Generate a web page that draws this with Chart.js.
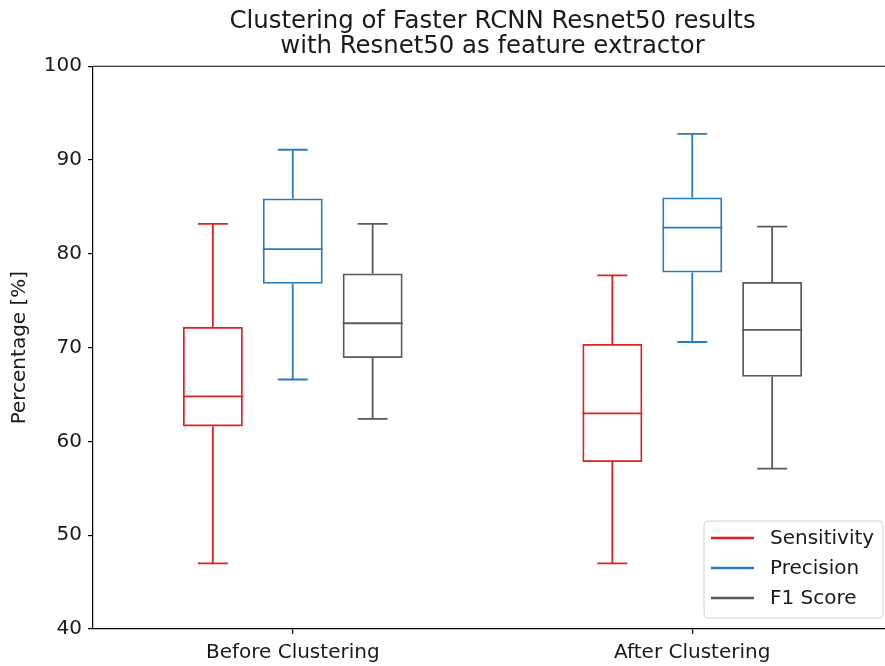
<!DOCTYPE html>
<html>
<head>
<meta charset="utf-8">
<script src="https://cdn.jsdelivr.net/npm/chart.js@4.4.0/dist/chart.umd.min.js"></script>
<style>
  html, body { margin: 0; padding: 0; background: #fff; overflow: hidden; }
  #wrap { width: 900px; height: 666px; position: relative; }
</style>
</head>
<body>
<div id="wrap"><canvas id="c" width="900" height="666"></canvas></div>
<script>
// Categories on the x axis
const categories = ['Before Clustering', 'After Clustering'];
// Series names (legend order)
const seriesNames = ['Sensitivity', 'Precision', 'F1 Score'];
// Five-number summaries per category: [whisker low, Q1, median, Q3, whisker high]
const sensitivity = [[47.0, 61.6, 64.8, 72.2, 83.2], [47.0, 57.8, 63.0, 70.4, 77.7]];
const precision   = [[66.6, 76.8, 80.5, 85.9, 91.1], [70.6, 78.0, 82.8, 86.0, 92.8]];
const f1Score     = [[62.4, 68.9, 72.6, 77.9, 83.2], [57.1, 66.9, 71.9, 77.0, 82.9]];
// Y axis tick values
const yTicks = [40, 50, 60, 70, 80, 90, 100];

const seriesStats = [sensitivity, precision, f1Score];
const seriesColors = ['#e41f1f', '#2a7bbf', '#5a5a5a'];
const FONT = "'DejaVu Sans', sans-serif";
const LINE_W = 1.8;

// Whiskers, caps and medians drawn on top of the floating-bar boxes
const boxWhiskers = {
  id: 'boxWhiskers',
  afterDatasetsDraw(chart) {
    const ctx = chart.ctx;
    const y = chart.scales.y;
    chart.data.datasets.forEach((ds, di) => {
      const meta = chart.getDatasetMeta(di);
      meta.data.forEach((bar, i) => {
        const s = ds.stats[i];
        const cx = bar.x, w = bar.width;
        const pMin = y.getPixelForValue(s[0]);
        const pQ1 = y.getPixelForValue(s[1]);
        const pMed = y.getPixelForValue(s[2]);
        const pQ3 = y.getPixelForValue(s[3]);
        const pMax = y.getPixelForValue(s[4]);
        ctx.save();
        ctx.strokeStyle = ds.borderColor;
        ctx.lineWidth = LINE_W;
        ctx.beginPath();
        // median
        ctx.moveTo(cx - w / 2, pMed); ctx.lineTo(cx + w / 2, pMed);
        // whiskers
        ctx.moveTo(cx, pQ3); ctx.lineTo(cx, pMax);
        ctx.moveTo(cx, pQ1); ctx.lineTo(cx, pMin);
        // caps
        ctx.moveTo(cx - w / 4, pMax); ctx.lineTo(cx + w / 4, pMax);
        ctx.moveTo(cx - w / 4, pMin); ctx.lineTo(cx + w / 4, pMin);
        ctx.stroke();
        ctx.restore();
      });
    });
  }
};

// Top and right spines of the axes frame
const frame = {
  id: 'frame',
  afterDraw(chart) {
    const { ctx, chartArea: a } = chart;
    ctx.save();
    ctx.strokeStyle = '#000';
    ctx.lineWidth = 1.2;
    ctx.beginPath();
    ctx.moveTo(a.left, a.top); ctx.lineTo(a.right, a.top); ctx.lineTo(a.right, a.bottom);
    ctx.stroke();
    ctx.restore();
  }
};

// Legend box in the lower right corner of the plot area
const cornerLegend = {
  id: 'cornerLegend',
  afterDraw(chart) {
    const { ctx, chartArea: a } = chart;
    const w = 179, h = 97, r = 4;
    const x0 = a.right - 9 - w, y0 = a.bottom - 11 - h;
    ctx.save();
    ctx.beginPath();
    ctx.moveTo(x0 + r, y0);
    ctx.lineTo(x0 + w - r, y0); ctx.arcTo(x0 + w, y0, x0 + w, y0 + r, r);
    ctx.lineTo(x0 + w, y0 + h - r); ctx.arcTo(x0 + w, y0 + h, x0 + w - r, y0 + h, r);
    ctx.lineTo(x0 + r, y0 + h); ctx.arcTo(x0, y0 + h, x0, y0 + h - r, r);
    ctx.lineTo(x0, y0 + r); ctx.arcTo(x0, y0, x0 + r, y0, r);
    ctx.closePath();
    ctx.fillStyle = 'rgba(255,255,255,0.8)';
    ctx.fill();
    ctx.strokeStyle = '#d0d0d0';
    ctx.lineWidth = 1;
    ctx.stroke();
    ctx.font = '20px ' + FONT;
    ctx.textBaseline = 'middle';
    ctx.textAlign = 'left';
    chart.data.datasets.forEach((ds, i) => {
      const yy = y0 + 17 + i * 30;
      ctx.strokeStyle = ds.borderColor;
      ctx.lineWidth = 2.4;
      ctx.beginPath();
      ctx.moveTo(x0 + 7, yy); ctx.lineTo(x0 + 50, yy);
      ctx.stroke();
      ctx.fillStyle = '#1a1a1a';
      ctx.fillText(ds.label, x0 + 66, yy + 1);
    });
    ctx.restore();
  }
};

const datasets = seriesNames.map((name, k) => ({
  label: name,
  data: seriesStats[k].map(s => [s[1], s[3]]),
  stats: seriesStats[k],
  backgroundColor: 'rgba(0,0,0,0)',
  borderColor: seriesColors[k],
  borderWidth: LINE_W,
  borderSkipped: false,
  categoryPercentage: 0.6,
  barPercentage: 0.75
}));

new Chart(document.getElementById('c'), {
  type: 'bar',
  data: { labels: categories, datasets },
  options: {
    responsive: false,
    devicePixelRatio: 1,
    animation: false,
    layout: { padding: { left: 0, right: 8, top: 0, bottom: 0 } },
    plugins: {
      legend: { display: false },
      tooltip: { enabled: false },
      title: {
        display: true,
        fullSize: false,
        text: ['Clustering of Faster RCNN Resnet50 results', 'with Resnet50 as feature extractor'],
        color: '#1a1a1a',
        font: { family: FONT, size: 24.4, weight: 'normal', lineHeight: 1.03 },
        padding: { top: 9, bottom: 7 }
      }
    },
    scales: {
      x: {
        type: 'category',
        afterFit(s) { s.height = 37; },
        grid: { display: true, drawOnChartArea: false, drawTicks: true, tickLength: 5, offset: false, color: '#000', lineWidth: 1.2 },
        border: { display: true, color: '#000', width: 1.2 },
        ticks: { color: '#1a1a1a', font: { family: FONT, size: 20 }, padding: 7, maxRotation: 0 }
      },
      y: {
        min: 40,
        max: 100,
        afterFit(s) { s.width = 93; },
        afterBuildTicks(s) { s.ticks = yTicks.map(v => ({ value: v })); },
        grid: { display: true, drawOnChartArea: false, drawTicks: true, tickLength: 5, color: '#000', lineWidth: 1.2 },
        border: { display: true, color: '#000', width: 1.2 },
        ticks: { color: '#1a1a1a', font: { family: FONT, size: 20 }, padding: 6 },
        title: {
          display: true,
          text: 'Percentage [%]',
          color: '#1a1a1a',
          font: { family: FONT, size: 20 },
          padding: { top: 8, bottom: 0 }
        }
      }
    }
  },
  plugins: [boxWhiskers, frame, cornerLegend]
});
</script>
</body>
</html>
